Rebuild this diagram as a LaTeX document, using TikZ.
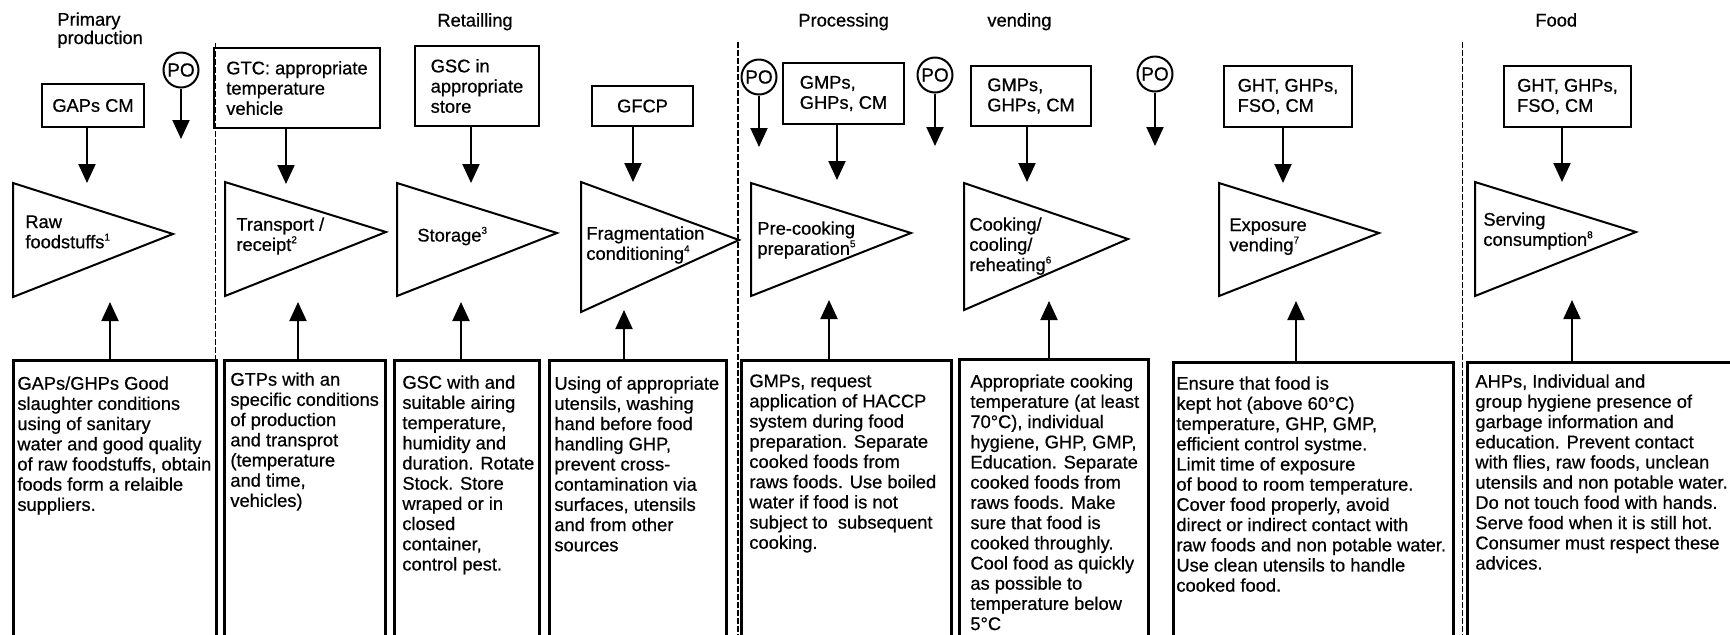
\documentclass[tikz,border=0pt]{standalone}
\usepackage{fontspec}
\setmainfont{Liberation Sans}[FakeBold=0.6]
\usetikzlibrary{arrows.meta}
\newcommand{\fnum}[1]{\textsuperscript{\fontsize{5}{5}\selectfont #1}}
\begin{document}
\begin{tikzpicture}[x=0.5pt,y=-0.5pt,
  txt/.style={font=\fontsize{9.15}{10.1}\selectfont, inner sep=0pt, align=left},
  hdr/.style={font=\fontsize{9.15}{9.2}\selectfont, inner sep=0pt, align=left},
  topbox/.style={draw, line width=1.3pt, font=\fontsize{9.15}{10.1}\selectfont, inner sep=0pt, align=left},
  lowbox/.style={draw, line width=1.3pt, inner sep=0pt, anchor=north west},
  arr/.style={line width=1pt, -{Triangle[length=9.5pt,width=8.5pt]}},
  tri/.style={draw, line width=1pt, line join=miter},
  po/.style={draw, circle, line width=1pt, minimum size=17.5pt, inner sep=0pt, font=\fontsize{9.5}{10}\selectfont},
  thindash/.style={line width=0.5pt, dash pattern=on 3pt off 1pt},
  thickdash/.style={line width=1pt, dash pattern=on 3pt off 1pt}
]
\path[use as bounding box, fill=white] (0,0) rectangle (1730,634);

% stage dividers
\coordinate (d1t) at (215,43);  \coordinate (d1b) at (215,640);
\coordinate (d2t) at (738,42);  \coordinate (d2b) at (738,640);
\coordinate (d3t) at (1462,42); \coordinate (d3b) at (1462,640);
\draw[thindash] (d1t) -- (d1b);
\draw[thickdash] (d2t) -- (d2b);
\draw[thindash] (d3t) -- (d3b);

% headers
\node[hdr, anchor=north west] (hprim) at (57,12) {Primary\\production};
\node[hdr, anchor=base west] (hret) at (437,26.5) {Retailling};
\node[hdr, anchor=base west] (hproc) at (798,26.5) {Processing};
\node[hdr, anchor=base west] (hvend) at (987,26.5) {vending};
\node[hdr, anchor=base west] (hfood) at (1535,26.5) {Food};

% top boxes
\node[topbox, align=center, minimum width=51pt, minimum height=21.5pt] (g1) at (93,105.5) {GAPs CM};
\node[topbox, minimum width=83pt, minimum height=40pt] (g2) at (297,88) {GTC: appropriate\\temperature\\vehicle};
\node[topbox, minimum width=62pt, minimum height=40pt] (g3) at (477,86) {GSC in\\appropriate\\store};
\node[topbox, align=center, minimum width=50.5pt, minimum height=20pt] (g4) at (642.5,106) {GFCP};
\node[topbox, minimum width=60.5pt, minimum height=30.5pt] (g5) at (843.5,93.5) {GMPs,\\GHPs, CM};
\node[topbox, minimum width=60pt, minimum height=30pt] (g6) at (1031,96) {GMPs,\\GHPs, CM};
\node[topbox, minimum width=64pt, minimum height=30.5pt] (g7) at (1288,96.5) {GHT, GHPs,\\FSO, CM};
\node[topbox, minimum width=63.5pt, minimum height=30.5pt] (g8) at (1567.5,96.5) {GHT, GHPs,\\FSO, CM};

% PO circles
\node[po] (po1) at (181,70) {PO};
\node[po] (po2) at (759,77) {PO};
\node[po] (po3) at (935,75) {PO};
\node[po] (po4) at (1155,74) {PO};
\coordinate (p1) at (181,139);
\coordinate (p2) at (759,147);
\coordinate (p3) at (935,146);
\coordinate (p4) at (1155,146);
\draw[arr] (po1) -- (p1);
\draw[arr] (po2) -- (p2);
\draw[arr] (po3) -- (p3);
\draw[arr] (po4) -- (p4);

% triangles (process steps)
\draw[tri] (13,183) -- (173,234) -- (13,297) -- cycle;
\draw[tri] (225,182) -- (386,232) -- (225,296) -- cycle;
\draw[tri] (397,183) -- (557,233) -- (397,296) -- cycle;
\draw[tri] (581,182) -- (739,240) -- (581,312) -- cycle;
\draw[tri] (751,183) -- (911,233) -- (751,296) -- cycle;
\draw[tri] (964,183) -- (1128,239) -- (964,310) -- cycle;
\draw[tri] (1219,183) -- (1379,233) -- (1219,296) -- cycle;
\draw[tri] (1475,182) -- (1636,232) -- (1475,296) -- cycle;

\node[txt, anchor=north west] (s1) at (25,215) {Raw\\foodstuffs\fnum{1}};
\node[txt, anchor=north west] (s2) at (236,217) {Transport /\\receipt\fnum{2}};
\node[txt, anchor=base west] (s3) at (417,241.5) {Storage\fnum{3}};
\node[txt, anchor=north west] (s4) at (586,226) {Fragmentation\\conditioning\fnum{4}};
\node[txt, anchor=north west] (s5) at (757,221) {Pre-cooking\\preparation\fnum{5}};
\node[txt, anchor=north west] (s6) at (969,217) {Cooking/\\cooling/\\reheating\fnum{6}};
\node[txt, anchor=north west] (s7) at (1229,218) {Exposure\\vending\fnum{7}};
\node[txt, anchor=north west] (s8) at (1483,212) {Serving\\consumption\fnum{8}};

% arrows from top boxes
\coordinate (a1) at (87,183);
\coordinate (a2) at (286,184);
\coordinate (a3) at (471,183);
\coordinate (a4) at (633,182);
\coordinate (a5) at (837,180);
\coordinate (a6) at (1027,182);
\coordinate (a7) at (1283,183);
\coordinate (a8) at (1562,182);
\draw[arr] (g1.south -| a1) -- (a1);
\draw[arr] (g2.south -| a2) -- (a2);
\draw[arr] (g3.south -| a3) -- (a3);
\draw[arr] (g4.south -| a4) -- (a4);
\draw[arr] (g5.south -| a5) -- (a5);
\draw[arr] (g6.south -| a6) -- (a6);
\draw[arr] (g7.south -| a7) -- (a7);
\draw[arr] (g8.south -| a8) -- (a8);

% bottom boxes
\node[lowbox, minimum width=101.5pt, minimum height=170pt] (b1) at (12,359) {};
\node[lowbox, minimum width=80.5pt, minimum height=170pt] (b2) at (223,359) {};
\node[lowbox, minimum width=72.5pt, minimum height=170pt] (b3) at (393,359) {};
\node[lowbox, minimum width=88.5pt, minimum height=170pt] (b4) at (548,359) {};
\node[lowbox, minimum width=105pt, minimum height=170pt] (b5) at (740,359) {};
\node[lowbox, minimum width=94.5pt, minimum height=170pt] (b6) at (958,358) {};
\node[lowbox, minimum width=140pt, minimum height=170pt] (b7) at (1172,361) {};
\node[lowbox, minimum width=137pt, minimum height=170pt] (b8) at (1466,361) {};

\node[txt, anchor=north west] (bt1) at (17,376) {GAPs/GHPs Good\\slaughter conditions\\using of sanitary\\water and good quality\\of raw foodstuffs, obtain\\foods form a relaible\\suppliers.};
\node[txt, anchor=north west] (bt2) at (230,372) {GTPs with an\\specific conditions\\of production\\and transprot\\(temperature\\and time,\\vehicles)};
\node[txt, anchor=north west] (bt3) at (402,375) {GSC with and\\suitable airing\\temperature,\\humidity and\\duration. Rotate\\Stock. Store\\wraped or in\\closed\\container,\\control pest.};
\node[txt, anchor=north west] (bt4) at (554,376) {Using of appropriate\\utensils, washing\\hand before food\\handling GHP,\\prevent cross-\\contamination via\\surfaces, utensils\\and from other\\sources};
\node[txt, anchor=north west] (bt5) at (749,374) {GMPs, request\\application of HACCP\\system during food\\preparation. Separate\\cooked foods from\\raws foods. Use boiled\\water if food is not\\subject to\ \ subsequent\\cooking.};
\node[txt, anchor=north west] (bt6) at (970,374) {Appropriate cooking\\temperature (at least\\70°C), individual\\hygiene, GHP, GMP,\\Education. Separate\\cooked foods from\\raws foods. Make\\sure that food is\\cooked throughly.\\Cool food as quickly\\as possible to\\temperature below\\5°C};
\node[txt, anchor=north west] (bt7) at (1176,376) {Ensure that food is\\kept hot (above 60°C)\\temperature, GHP, GMP,\\efficient control systme.\\Limit time of exposure\\of bood to room temperature.\\Cover food properly, avoid\\direct or indirect contact with\\raw foods and non potable water.\\Use clean utensils to handle\\cooked food.};
\node[txt, anchor=north west] (bt8) at (1475,374) {AHPs, Individual and\\group hygiene presence of\\garbage information and\\education. Prevent contact\\with flies, raw foods, unclean\\utensils and non potable water.\\Do not touch food with hands.\\Serve food when it is still hot.\\Consumer must respect these\\advices.};

% arrows from bottom boxes
\coordinate (u1) at (110,302);
\coordinate (u2) at (298,302);
\coordinate (u3) at (461,302);
\coordinate (u4) at (624,310);
\coordinate (u5) at (829,300);
\coordinate (u6) at (1049,301);
\coordinate (u7) at (1296,301);
\coordinate (u8) at (1572,300);
\draw[arr] (b1.north -| u1) -- (u1);
\draw[arr] (b2.north -| u2) -- (u2);
\draw[arr] (b3.north -| u3) -- (u3);
\draw[arr] (b4.north -| u4) -- (u4);
\draw[arr] (b5.north -| u5) -- (u5);
\draw[arr] (b6.north -| u6) -- (u6);
\draw[arr] (b7.north -| u7) -- (u7);
\draw[arr] (b8.north -| u8) -- (u8);
\end{tikzpicture}
\end{document}
